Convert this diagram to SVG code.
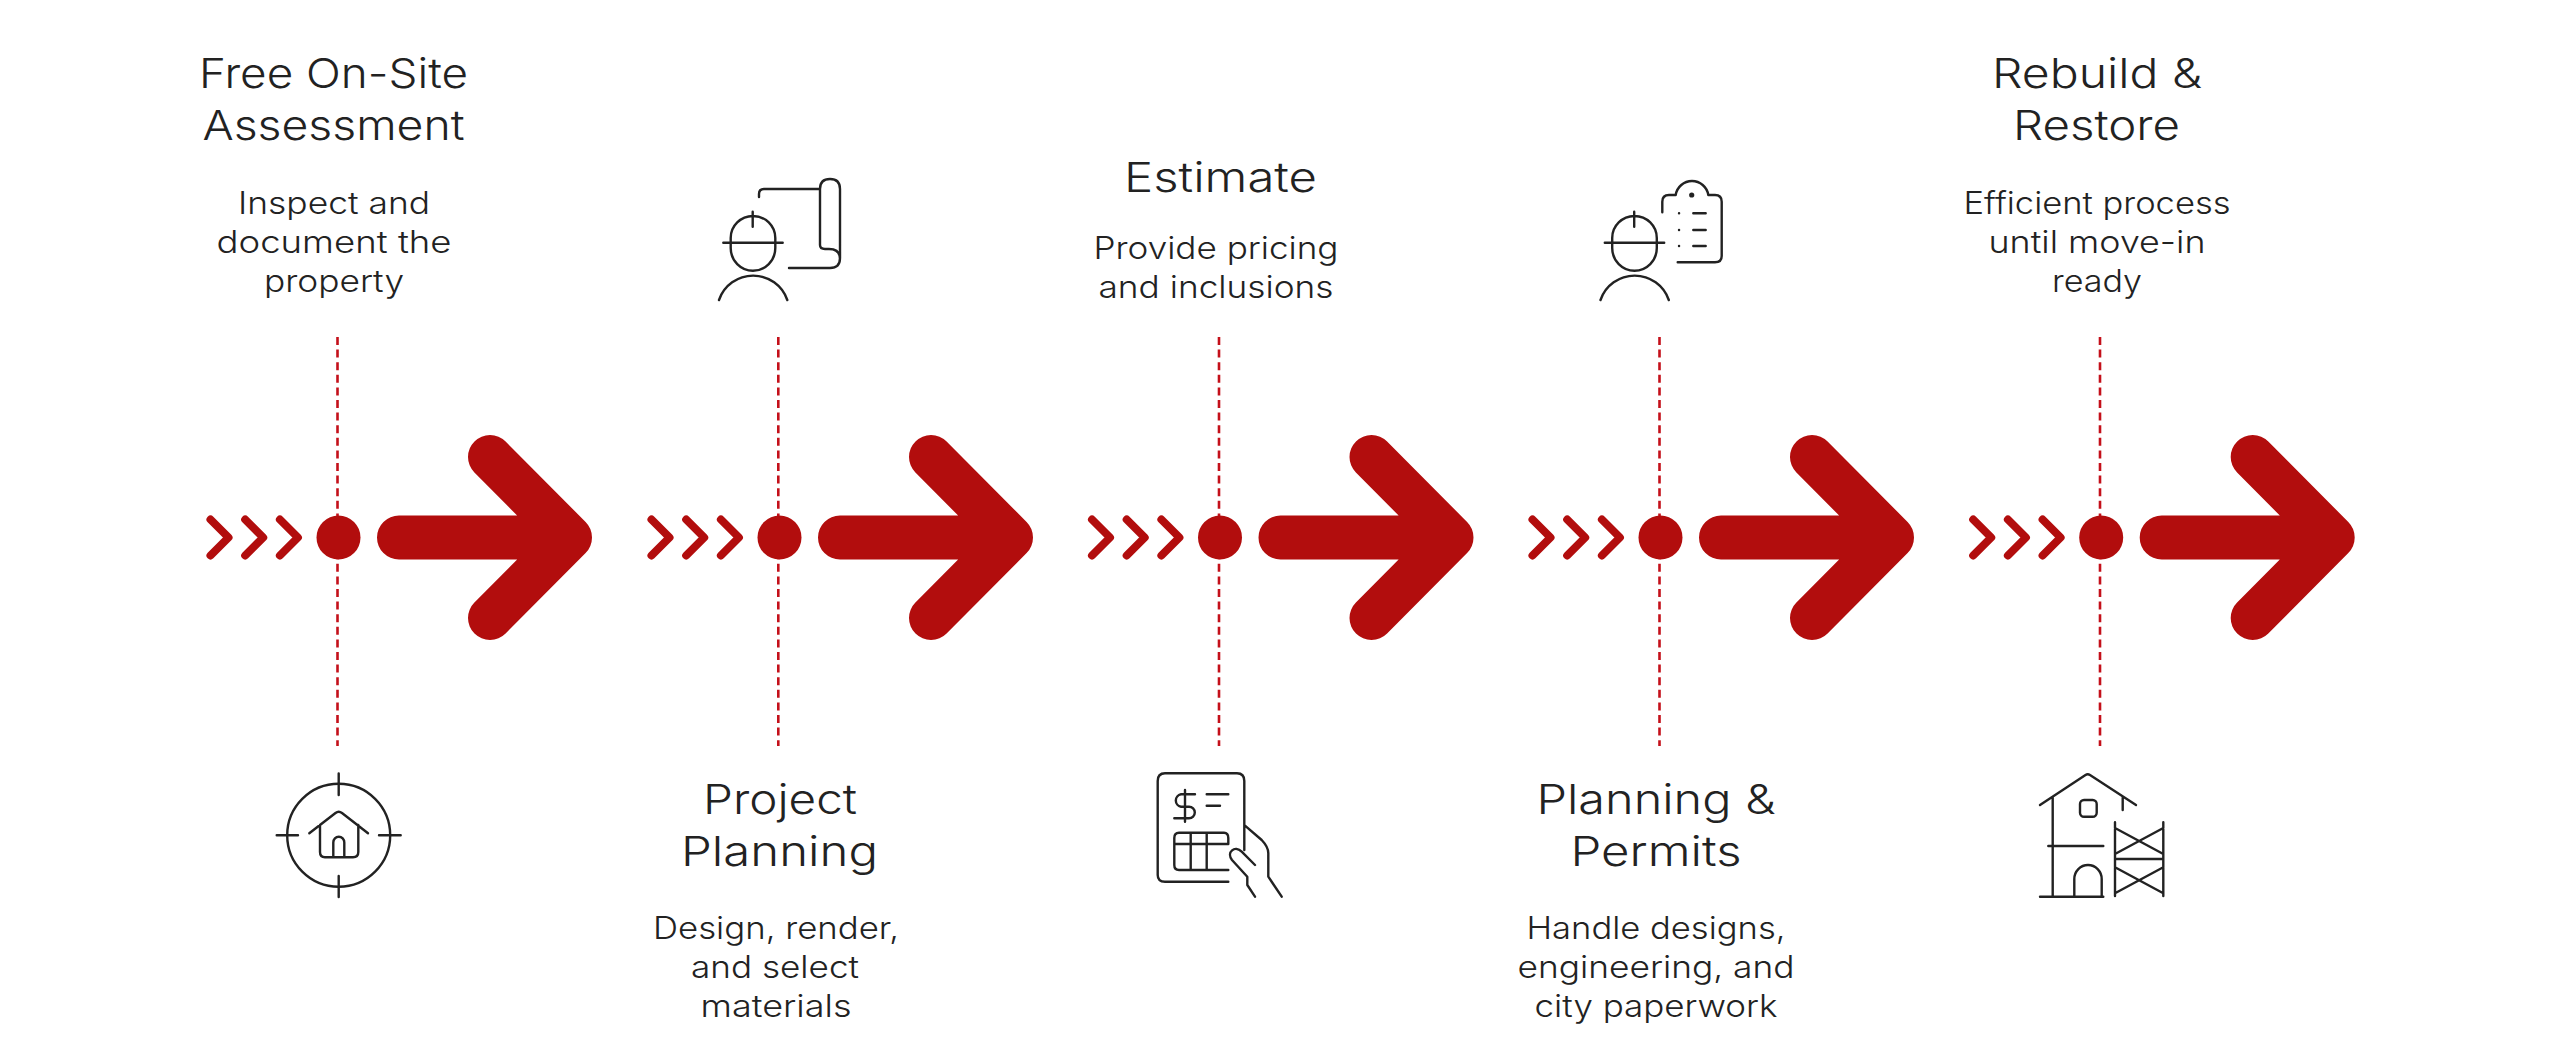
<svg xmlns="http://www.w3.org/2000/svg" xmlns:xlink="http://www.w3.org/1999/xlink" width="2560" height="1051" viewBox="0 0 2560 1051">
<style>
text{font-family:"Inter","Noto Sans","Liberation Sans",sans-serif;fill:#222;font-weight:300;text-anchor:middle}
.t{font-size:41px}
.d{font-size:31px}
.i{fill:none;stroke:#222;stroke-width:2.4;stroke-linecap:round;stroke-linejoin:round}
.dash{stroke:#c4101a;stroke-width:2.6;stroke-dasharray:8 4.600;fill:none}
.ch{fill:none;stroke:#b20d0d;stroke-width:8;stroke-linecap:round;stroke-linejoin:round}
.ar{fill:none;stroke:#b20d0d;stroke-width:44;stroke-linecap:round;stroke-linejoin:round}
.dot{fill:#b20d0d}
</style>
<defs>
<g id="flow">
<path class="ch" d="M210.500 519.500L228.500 537.500L210.500 555.500M245.200 519.500L263.200 537.500L245.200 555.500M279.900 519.500L297.900 537.500L279.900 555.500"/>
<circle class="dot" cx="338.500" cy="537.500" r="22"/>
<path class="ar" d="M399 537.500H570M490 457L570 537.500L490 618"/>
</g>
<g id="worker">
<path class="i" d="M730.700 238A22.300 22 0 0 1 775.300 238V248A22.300 22.700 0 0 1 730.700 248ZM723.300 242.700H782.700M752.700 211.700V226.700M719 300A36.100 36.100 0 0 1 787.300 300"/>
</g>
</defs>
<g id="connectors">
<path class="dash" d="M337.500 337V746"/>
<path class="dash" d="M778.300 337V746"/>
<path class="dash" d="M1219 337V746"/>
<path class="dash" d="M1659.500 337V746"/>
<path class="dash" d="M2100 337V746"/>
</g>
<g id="step1">
<use xlink:href="#flow" href="#flow"/>
<text class="t" x="333.500" y="88" lengthAdjust="spacingAndGlyphs" textLength="269">Free On-Site</text>
<text class="t" x="333.500" y="140" lengthAdjust="spacingAndGlyphs" textLength="262">Assessment</text>
<text class="d" x="334" y="213.500" lengthAdjust="spacingAndGlyphs" textLength="192">Inspect and</text>
<text class="d" x="334" y="252.500" lengthAdjust="spacingAndGlyphs" textLength="235">document the</text>
<text class="d" x="334" y="291.500" lengthAdjust="spacingAndGlyphs" textLength="140">property</text>
<g class="i">
<circle cx="338.700" cy="835.300" r="51.500"/>
<path d="M338.700 773.500V795M338.700 876V897M276.700 835.300H298M379 835.300H400.700M309.300 833.300L335.500 813Q338.700 810.500 342 813L368 833.300M320 825V852Q320 857.300 325 857.300H353Q358.300 857.300 358.300 852V825M333.300 857.300V842.500A5.500 5.800 0 0 1 344.300 842.500V857.300"/>
</g>
</g>
<g id="step2">
<use xlink:href="#flow" href="#flow" x="441"/>
<text class="t" x="780" y="814" lengthAdjust="spacingAndGlyphs" textLength="154">Project</text>
<text class="t" x="779.500" y="866" lengthAdjust="spacingAndGlyphs" textLength="197">Planning</text>
<text class="d" x="776" y="939" lengthAdjust="spacingAndGlyphs" textLength="246">Design, render,</text>
<text class="d" x="775" y="978" lengthAdjust="spacingAndGlyphs" textLength="168">and select</text>
<text class="d" x="776" y="1017" lengthAdjust="spacingAndGlyphs" textLength="151">materials</text>
<use xlink:href="#worker" href="#worker"/>
<path class="i" d="M759 197V194Q759 189 764 189H820M820 245V189Q820 179 830 179Q840 179 840 189V258Q840 268 830 268H789M820 245Q820 249 825 249H829Q840 249 840 259"/>
</g>
<g id="step3">
<use xlink:href="#flow" href="#flow" x="881.500"/>
<text class="t" x="1220.500" y="191.500" lengthAdjust="spacingAndGlyphs" textLength="193">Estimate</text>
<text class="d" x="1216" y="259" lengthAdjust="spacingAndGlyphs" textLength="245">Provide pricing</text>
<text class="d" x="1216" y="298" lengthAdjust="spacingAndGlyphs" textLength="235">and inclusions</text>
<path class="i" d="M1228.300 881.700H1165Q1157.700 881.700 1157.700 875V781Q1157.700 773.300 1165 773.300H1237Q1244.300 773.300 1244.300 781V850M1195 794.300H1181A6.300 6.300 0 0 0 1181 806.700H1189A5.800 5.800 0 0 1 1189 818.300H1174.300M1185 790V821.700M1206.700 794.300H1228.300M1206.700 805.700H1220M1228.300 870H1179Q1174.300 870 1174.300 865V838Q1174.300 832.700 1179 832.700H1224Q1228.300 832.700 1228.300 838V844H1174.300M1190.700 832.700V870M1206.700 832.700V870M1245 825.700L1261.700 840Q1268.300 847 1268.300 853V876.700L1281.700 896.700M1255 865L1241.700 851.700C1235 845 1226 852 1232 860L1247.300 876.700V885L1255 896.700"/>
</g>
<g id="step4">
<use xlink:href="#flow" href="#flow" x="1322"/>
<text class="t" x="1656" y="814" lengthAdjust="spacingAndGlyphs" textLength="239">Planning &amp;</text>
<text class="t" x="1656" y="866" lengthAdjust="spacingAndGlyphs" textLength="171">Permits</text>
<text class="d" x="1656" y="939" lengthAdjust="spacingAndGlyphs" textLength="259">Handle designs,</text>
<text class="d" x="1656" y="978" lengthAdjust="spacingAndGlyphs" textLength="277">engineering, and</text>
<text class="d" x="1656" y="1017" lengthAdjust="spacingAndGlyphs" textLength="243">city paperwork</text>
<use xlink:href="#worker" href="#worker" x="881.500"/>
<path class="i" d="M1662.300 212.300V201.700Q1662.300 195 1669 195H1675.700A16.500 16.500 0 0 1 1708.300 195H1715Q1721.700 195 1721.700 201.700V256Q1721.700 262.300 1715 262.300H1677.700M1679 213.300H1679.100M1679 230H1679.100M1679 246H1679.100M1693.300 213.300H1705.700M1693.300 230H1705.700M1693.300 246H1705.700"/>
<circle cx="1691.700" cy="195" r="2.600" fill="#222"/>
</g>
<g id="step5">
<use xlink:href="#flow" href="#flow" x="1762.700"/>
<text class="t" x="2097" y="88" lengthAdjust="spacingAndGlyphs" textLength="210">Rebuild &amp;</text>
<text class="t" x="2096.500" y="140" lengthAdjust="spacingAndGlyphs" textLength="167">Restore</text>
<text class="d" x="2097" y="213.500" lengthAdjust="spacingAndGlyphs" textLength="267">Efficient process</text>
<text class="d" x="2097" y="252.500" lengthAdjust="spacingAndGlyphs" textLength="217">until move-in</text>
<text class="d" x="2097" y="291.500" lengthAdjust="spacingAndGlyphs" textLength="90">ready</text>
<g class="i">
<path d="M2040 805L2085.500 775Q2087.700 773.500 2090 775L2136 805M2052.700 796.700V896.700M2040 896.700H2103.300M2048.300 846H2103.300M2122.700 797.300V810M2074.300 896.700V879A13.700 14 0 0 1 2101.700 879V896.700M2115 822.300V896M2163.300 822.300V896M2115 859H2163.300M2115 828L2163.300 854M2115 854L2163.300 828M2115 867.300L2163.300 893.300M2115 893.300L2163.300 867.300"/>
<rect x="2080" y="800" width="16.700" height="16.700" rx="4"/>
</g>
</g>
</svg>
